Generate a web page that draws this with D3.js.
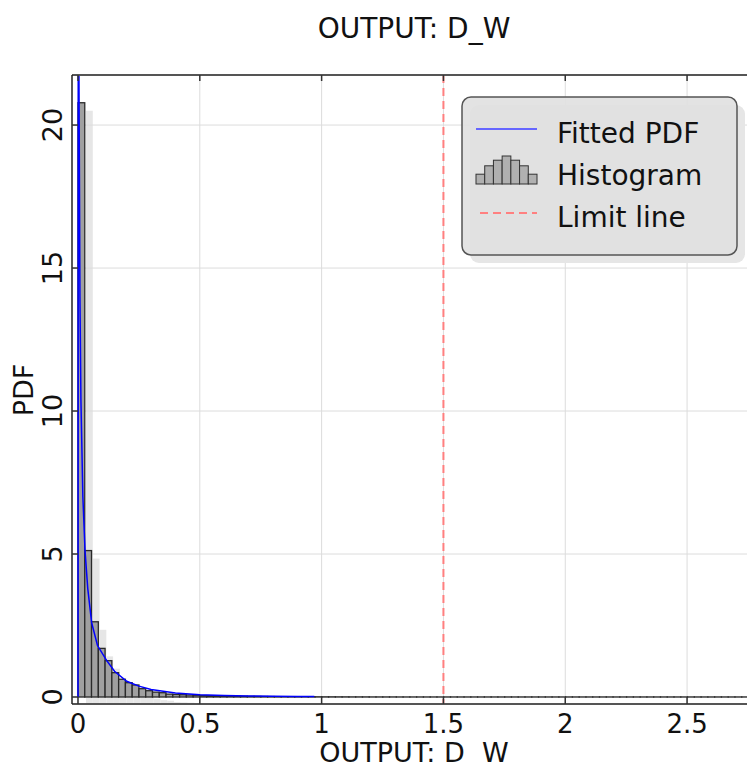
<!DOCTYPE html>
<html>
<head>
<meta charset="utf-8">
<script src="https://cdn.jsdelivr.net/npm/d3@7"></script>
<style>
  body { margin: 0; background: #fff; }
  svg { display: block; font-family: "DejaVu Sans", Verdana, sans-serif; }
</style>
</head>
<body>
<svg width="747" height="764"></svg>
<script>
// histogram: bin width and density of each bin (starting at 0)
const binWidth = 0.0278;
const density = [
  20.78, 5.12, 2.63, 1.70, 1.27, 0.85, 0.62, 0.50, 0.42, 0.29,
  0.22, 0.17, 0.15, 0.10, 0.09, 0.08, 0.07, 0.06, 0.05, 0.045,
  0.04, 0.035, 0.03, 0.027, 0.024, 0.02, 0.018, 0.016, 0.014, 0.012,
  0.011, 0.01, 0.009, 0.008, 0.007, 0.006, 0.005, 0.005, 0.004, 0.004,
  0.003, 0.003, 0.003, 0.002, 0.002, 0.002, 0.002, 0.001, 0.001, 0.001,
  0.001, 0.001, 0.001, 0.001, 0.001, 0.001, 0.001, 0.001, 0.001, 0.001,
  0.001, 0.001, 0.001, 0.001, 0.001, 0.001, 0.001, 0.001, 0.001, 0.001,
  0.001, 0.001, 0.001, 0.001, 0.001, 0.001, 0.001, 0.001, 0.001, 0.001,
  0.001, 0.001, 0.001, 0.001, 0.001, 0.001, 0.001, 0.001, 0.001, 0.001,
  0.001, 0.001, 0.001, 0.001, 0.001, 0.001, 0.001, 0.001, 0.001, 0.001
];

// fitted pdf sampled points
const pdfX = [0, 0.002, 0.004, 0.008, 0.012, 0.02, 0.029, 0.04, 0.056, 0.08,
  0.118, 0.15, 0.2, 0.25, 0.3, 0.4, 0.5, 0.6, 0.7, 0.8, 0.9, 0.97];
const pdfY = [0, 40, 21.7, 14, 10.4, 7, 5.1, 3.8, 2.6, 1.8,
  1.27, 0.9, 0.55, 0.38, 0.26, 0.14, 0.08, 0.05, 0.035, 0.025, 0.018, 0.015];

const limitValue = 1.5;
const xTicks = [0, 0.5, 1, 1.5, 2, 2.5];
const yTicks = [0, 5, 10, 15, 20];
const legendLabels = ["Fitted PDF", "Histogram", "Limit line"];
const legendIconBars = [0.35, 0.65, 0.85, 1, 0.85, 0.65, 0.35];

const svg = d3.select("svg");

const pLeft = 72, pRight = 747, pTop = 75, pBottom = 704;

const x = d3.scaleLinear().domain([-0.0246, 2.746]).range([pLeft, pRight]);
const y = d3.scaleLinear().domain([-0.245, 21.75]).range([pBottom, pTop]);

svg.append("defs").append("clipPath")
  .attr("id", "plot")
  .append("rect")
  .attr("x", pLeft).attr("y", pTop)
  .attr("width", pRight - pLeft).attr("height", pBottom - pTop + 4);

const plot = svg.append("g").attr("clip-path", "url(#plot)");

const bins = density.map((d, i) => ({x0: i * binWidth, x1: (i + 1) * binWidth, v: d}));

// bar shadows
plot.append("g")
  .selectAll("rect")
  .data(bins)
  .join("rect")
  .attr("x", d => x(d.x0) + 8)
  .attr("y", d => y(d.v) + 8)
  .attr("width", d => x(d.x1) - x(d.x0))
  .attr("height", d => y(0) - y(d.v))
  .attr("fill", "#e6e6e6");

// grid
plot.append("g")
  .selectAll("line")
  .data(xTicks)
  .join("line")
  .attr("x1", d => x(d)).attr("x2", d => x(d))
  .attr("y1", pTop).attr("y2", pBottom)
  .attr("stroke", "#dcdcdc")
  .attr("stroke-width", 1);

plot.append("g")
  .selectAll("line")
  .data(yTicks)
  .join("line")
  .attr("x1", pLeft).attr("x2", pRight)
  .attr("y1", d => y(d)).attr("y2", d => y(d))
  .attr("stroke", "#dcdcdc")
  .attr("stroke-width", 1);

// bars
plot.append("g")
  .selectAll("rect")
  .data(bins)
  .join("rect")
  .attr("x", d => x(d.x0))
  .attr("y", d => y(d.v))
  .attr("width", d => x(d.x1) - x(d.x0))
  .attr("height", d => y(0) - y(d.v))
  .attr("fill", "#a0a0a0")
  .attr("stroke", "#2a2a2a")
  .attr("stroke-width", 1.3);

// fitted pdf
const line = d3.line()
  .x(d => x(d[0]))
  .y(d => y(d[1]));

plot.append("path")
  .datum(d3.zip(pdfX, pdfY))
  .attr("d", line)
  .attr("fill", "none")
  .attr("stroke", "#0000ff")
  .attr("stroke-width", 1.5);

// limit line
plot.append("line")
  .attr("x1", x(limitValue)).attr("x2", x(limitValue))
  .attr("y1", pTop).attr("y2", pBottom)
  .attr("stroke", "#ff7f7f")
  .attr("stroke-width", 2)
  .attr("stroke-dasharray", "8,5");

// frame + ticks
const frame = svg.append("g").attr("stroke", "#333").attr("fill", "none");
frame.append("line").attr("x1", pLeft).attr("x2", pRight).attr("y1", pTop).attr("y2", pTop).attr("stroke-width", 2).attr("stroke", "#555");
frame.append("line").attr("x1", pLeft).attr("x2", pRight).attr("y1", pBottom).attr("y2", pBottom).attr("stroke-width", 2).attr("stroke", "#555");
frame.append("line").attr("x1", pLeft).attr("x2", pLeft).attr("y1", pTop).attr("y2", pBottom).attr("stroke-width", 1.5).attr("stroke", "#222");

frame.selectAll(".xt")
  .data(xTicks)
  .join("path")
  .attr("d", d => `M${x(d)},${pBottom}v-7M${x(d)},${pTop}v6`)
  .attr("stroke-width", 1.5);

frame.selectAll(".yt")
  .data(yTicks)
  .join("line")
  .attr("x1", pLeft).attr("x2", pLeft + 6)
  .attr("y1", d => y(d)).attr("y2", d => y(d))
  .attr("stroke-width", 1.5);

// tick labels
svg.append("g")
  .selectAll("text")
  .data(xTicks)
  .join("text")
  .attr("x", d => x(d))
  .attr("y", 733)
  .attr("text-anchor", "middle")
  .attr("font-size", "26px")
  .attr("fill", "#111")
  .text(d => d);

svg.append("g")
  .selectAll("text")
  .data(yTicks)
  .join("text")
  .attr("transform", d => `translate(62,${y(d)}) rotate(-90)`)
  .attr("text-anchor", "middle")
  .attr("font-size", "27px")
  .attr("fill", "#111")
  .text(d => d);

// titles
svg.append("text")
  .attr("x", 414).attr("y", 38)
  .attr("text-anchor", "middle")
  .attr("font-size", "28px")
  .attr("fill", "#111")
  .text("OUTPUT: D_W");

svg.append("text")
  .attr("x", 414).attr("y", 762)
  .attr("text-anchor", "middle")
  .attr("font-size", "27px")
  .attr("fill", "#111")
  .style("white-space", "pre")
  .text("OUTPUT: D  W");

svg.append("text")
  .attr("transform", "translate(33,390) rotate(-90)")
  .attr("text-anchor", "middle")
  .attr("font-size", "27px")
  .attr("fill", "#111")
  .text("PDF");

// legend
const lg = svg.append("g");
const lgX = 462, lgY = 97, lgW = 275, lgH = 158;
lg.append("rect")
  .attr("x", lgX + 8).attr("y", lgY + 8)
  .attr("width", lgW).attr("height", lgH)
  .attr("rx", 9)
  .attr("fill", "#e6e6e6");
lg.append("rect")
  .attr("x", lgX).attr("y", lgY)
  .attr("width", lgW).attr("height", lgH)
  .attr("rx", 9)
  .attr("fill", "#e0e0e0")
  .attr("fill-opacity", 0.9)
  .attr("stroke", "#555")
  .attr("stroke-width", 1.5);

const rowY = [129, 171, 213];
lg.append("line")
  .attr("x1", 476).attr("x2", 537)
  .attr("y1", rowY[0]).attr("y2", rowY[0])
  .attr("stroke", "#6666ff").attr("stroke-width", 2);

const iconW = 61 / legendIconBars.length;
lg.append("g")
  .selectAll("rect")
  .data(legendIconBars)
  .join("rect")
  .attr("x", (d, i) => 476 + i * iconW)
  .attr("y", d => 184 - 28 * d)
  .attr("width", iconW)
  .attr("height", d => 28 * d)
  .attr("fill", "#b0b0b0")
  .attr("stroke", "#333")
  .attr("stroke-width", 1);

lg.append("line")
  .attr("x1", 480).attr("x2", 537)
  .attr("y1", rowY[2]).attr("y2", rowY[2])
  .attr("stroke", "#ff8080").attr("stroke-width", 2)
  .attr("stroke-dasharray", "8,5");

lg.selectAll("text")
  .data(legendLabels)
  .join("text")
  .attr("x", 557)
  .attr("y", (d, i) => rowY[i] + 14)
  .attr("font-size", "28px")
  .attr("fill", "#111")
  .text(d => d);
</script>
</body>
</html>
